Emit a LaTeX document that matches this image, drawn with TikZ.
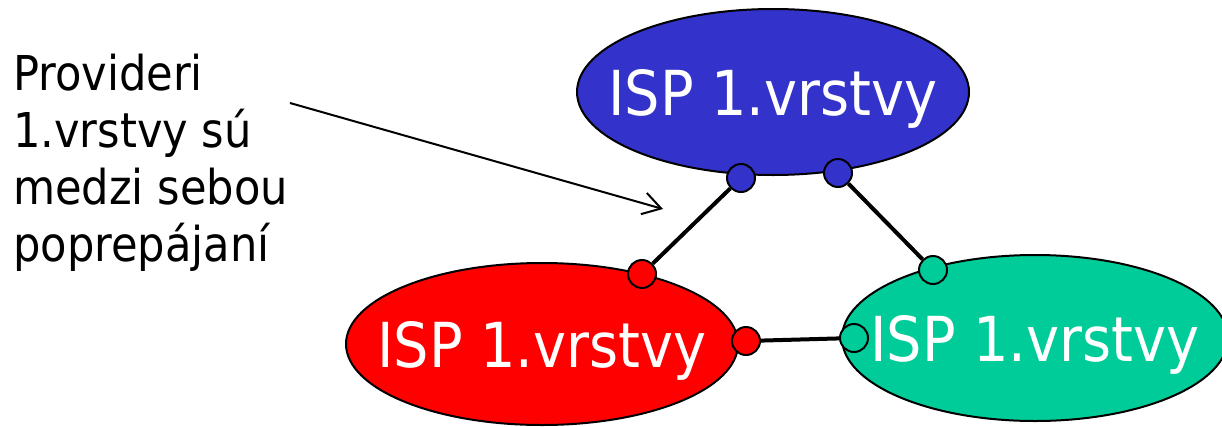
\documentclass[tikz,border=0pt]{standalone}
\usepackage{fontspec}
\setmainfont{DejaVu Sans Condensed}
\usetikzlibrary{shapes.geometric,arrows.meta}
\definecolor{ispblue}{HTML}{3333CC}
\definecolor{ispred}{HTML}{FF0000}
\definecolor{ispgreen}{HTML}{00CC99}
\begin{document}
\begin{tikzpicture}[x=1pt,y=-1pt,
  isp/.style={ellipse, draw=black, line width=2pt, inner sep=0pt,
    label={[text=white, font=\fontsize{62}{70}\selectfont, inner sep=0pt,
      yshift=-7pt]center:ISP 1.vrstvy}},
  port/.style={circle, draw=black, line width=2pt, minimum size=28pt, inner sep=0pt},
  link/.style={line width=4pt, draw=black},
  callout/.style={line width=2pt, -{Straight Barb[length=18pt,width=22pt,line width=2pt]}}
]
\useasboundingbox (0,0) rectangle (1222,426);
\node[isp, fill=ispblue, minimum width=392pt, minimum height=166pt] (top) at (773,92) {};
\node[isp, fill=ispred, minimum width=392pt, minimum height=162pt] (red) at (542,344) {};
\node[isp, fill=ispgreen, minimum width=386pt, minimum height=166pt] (green) at (1035,338) {};

\node[port, fill=ispblue] (b1) at (741,178) {};
\node[port, fill=ispblue] (b2) at (838,173) {};
\node[port, fill=ispred] (r1) at (642,274) {};
\node[port, fill=ispred] (r2) at (746,341) {};
\node[port, fill=ispgreen] (g1) at (933,270) {};
\node[port, fill=ispgreen] (g2) at (854,338) {};

\draw[link] (b1) -- (r1);
\draw[link] (b2) -- (g1);
\draw[link] (r2) -- (g2);

\node[anchor=north west, align=left, inner sep=0pt,
  font=\fontsize{48}{57}\selectfont] (lbl) at (13,54)
  {Provideri\\1.vrstvy sú\\medzi sebou\\poprepájaní};
\coordinate (as) at (290,103);
\coordinate (ae) at (663,209);
\draw[callout] (as) -- (ae);
\end{tikzpicture}
\end{document}
